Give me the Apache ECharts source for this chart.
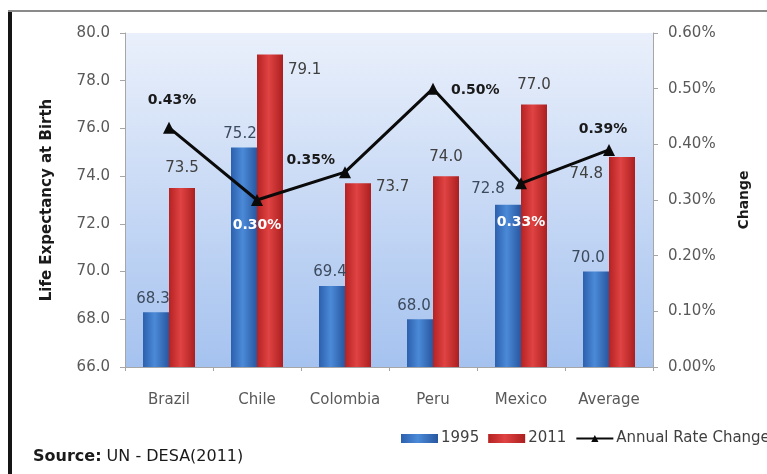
<!DOCTYPE html>
<html>
<head>
<meta charset="utf-8">
<script src="https://cdn.jsdelivr.net/npm/echarts@6/dist/echarts.min.js"></script>
<style>
html,body{margin:0;padding:0;background:#fff;}
#chart{width:767px;height:474px;}
</style>
</head>
<body>
<div id="chart"></div>
<script>
const categories = ['Brazil', 'Chile', 'Colombia', 'Peru', 'Mexico', 'Average'];
const life1995 = [68.3, 75.2, 69.4, 68.0, 72.8, 70.0];
const life2011 = [73.5, 79.1, 73.7, 74.0, 77.0, 74.8];
const rateChange = [0.43, 0.30, 0.35, 0.50, 0.33, 0.39];
const leftTicks = { min: 66, max: 80, interval: 2 };
const rightTicks = { min: 0, max: 0.6, interval: 0.1 };

const FONT = 'DejaVu Sans';

// label placement (style only)
const lbl1995 = [
  { position: 'top', distance: 6, offset: [-3, 0] },
  { position: 'top', distance: 6, offset: [-4, 0] },
  { position: 'top', distance: 6, offset: [-2, 0] },
  { position: 'top', distance: 6, offset: [-6, 0] },
  { position: 'top', distance: 8, offset: [-20, 0] },
  { position: 'top', distance: 6, offset: [-8, 0] }
];
const lbl2011 = [
  { position: 'top', distance: 12, offset: [0, 0] },
  { position: [31, 16], align: 'left', verticalAlign: 'middle' },
  { position: [31, 4], align: 'left', verticalAlign: 'middle' },
  { position: 'top', distance: 12, offset: [0, 0] },
  { position: 'top', distance: 12, offset: [0, 0] },
  { position: [-6, 17], align: 'right', verticalAlign: 'middle' }
];
const lblRate = [
  { position: 'top', distance: 14, offset: [3, 0], color: '#1a1a1a' },
  { position: 'bottom', distance: 12, offset: [0, 0], color: '#ffffff' },
  { position: 'left', distance: 4, offset: [0, -12], color: '#1a1a1a' },
  { position: 'right', distance: 12, offset: [0, 2], color: '#1a1a1a' },
  { position: 'bottom', distance: 26, offset: [0, 0], color: '#ffffff' },
  { position: 'top', distance: 8, offset: [-6, 0], color: '#1a1a1a' }
];

const blueGrad = new echarts.graphic.LinearGradient(0, 0, 1, 0, [
  { offset: 0, color: '#2c60ad' }, { offset: 0.45, color: '#4b8ad8' }, { offset: 1, color: '#2857a0' }
]);
const redGrad = new echarts.graphic.LinearGradient(0, 0, 1, 0, [
  { offset: 0, color: '#b52222' }, { offset: 0.45, color: '#e04343' }, { offset: 1, color: '#ac1f1f' }
]);

const chart = echarts.init(document.getElementById('chart'), null, { renderer: 'canvas' });
chart.setOption({
  animation: false,
  textStyle: { fontFamily: FONT },
  grid: {
    left: 125, right: 114, top: 33, bottom: 107,
    show: true, borderWidth: 0,
    backgroundColor: new echarts.graphic.LinearGradient(0, 0, 0, 1, [
      { offset: 0, color: '#eaf0fb' }, { offset: 1, color: '#a5c2ef' }
    ])
  },
  graphic: [
    { type: 'rect', shape: { x: 8, y: 10, width: 4, height: 464 }, style: { fill: '#151515' }, z: 100 },
    { type: 'rect', shape: { x: 8, y: 10, width: 759, height: 2 }, style: { fill: '#8a8a8a' }, z: 100 },
    { type: 'text', left: 33, top: 449, style: {
        text: '{b|Source:} UN - DESA(2011)',
        rich: { b: { fontWeight: 'bold', fontSize: 16, fontFamily: FONT, fill: '#1a1a1a' } },
        fontSize: 16, fontFamily: FONT, fill: '#1a1a1a' } }
  ],
  legend: {
    left: 396, top: 426, width: 900, orient: 'horizontal',
    itemWidth: 37, itemHeight: 9, itemGap: 9,
    textStyle: { fontSize: 15, color: '#404040', fontFamily: FONT, padding: [0, 0, 0, -2] },
    data: [
      { name: '1995', icon: 'rect' },
      { name: '2011', icon: 'rect' },
      { name: 'Annual Rate Change' }
    ]
  },
  xAxis: {
    type: 'category',
    data: categories,
    axisLine: { lineStyle: { color: '#a6a6a6' } },
    axisTick: { show: true, length: 4, lineStyle: { color: '#a6a6a6' } },
    axisLabel: { fontSize: 15, color: '#595959', margin: 26, interval: 0 }
  },
  yAxis: [
    {
      type: 'value', min: leftTicks.min, max: leftTicks.max, interval: leftTicks.interval,
      name: 'Life Expectancy at Birth', nameLocation: 'middle', nameGap: 70, nameRotate: 90,
      nameTextStyle: { fontWeight: 'bold', fontSize: 15, color: '#1a1a1a' },
      axisLine: { show: true, lineStyle: { color: '#a6a6a6' } },
      axisTick: { show: true, length: 5, lineStyle: { color: '#a6a6a6' } },
      splitLine: { show: false },
      axisLabel: { fontSize: 15, color: '#595959', margin: 15, formatter: v => v.toFixed(1) }
    },
    {
      type: 'value', min: rightTicks.min, max: rightTicks.max, interval: rightTicks.interval,
      position: 'right',
      name: 'Change', nameLocation: 'middle', nameGap: 84, nameRotate: 90,
      nameTextStyle: { fontWeight: 'bold', fontSize: 14, color: '#1a1a1a' },
      axisLine: { show: true, lineStyle: { color: '#a6a6a6' } },
      axisTick: { show: true, length: 5, lineStyle: { color: '#a6a6a6' } },
      splitLine: { show: false },
      axisLabel: { fontSize: 15, color: '#595959', margin: 15, formatter: v => v.toFixed(2) + '%' }
    }
  ],
  series: [
    {
      name: '1995', type: 'bar', yAxisIndex: 0, barWidth: 26, barGap: '0%',
      itemStyle: { color: blueGrad },
      data: life1995.map((v, i) => ({
        value: v,
        label: Object.assign({ show: true, fontSize: 15, color: '#3c4a5e', formatter: p => p.value.toFixed(1) }, lbl1995[i])
      }))
    },
    {
      name: '2011', type: 'bar', yAxisIndex: 0, barWidth: 26, barGap: '0%',
      itemStyle: { color: redGrad },
      data: life2011.map((v, i) => ({
        value: v,
        label: Object.assign({ show: true, fontSize: 15, color: '#404040', formatter: p => p.value.toFixed(1) }, lbl2011[i])
      }))
    },
    {
      name: 'Annual Rate Change', type: 'line', yAxisIndex: 1,
      symbol: 'triangle', symbolSize: 12,
      lineStyle: { color: '#0a0a0a', width: 3 },
      itemStyle: { color: '#0a0a0a' },
      z: 5,
      data: rateChange.map((v, i) => ({
        value: v,
        label: Object.assign({ show: true, fontSize: 14, fontWeight: 'bold', formatter: p => p.value.toFixed(2) + '%' }, lblRate[i])
      }))
    }
  ]
});
</script>
</body>
</html>
